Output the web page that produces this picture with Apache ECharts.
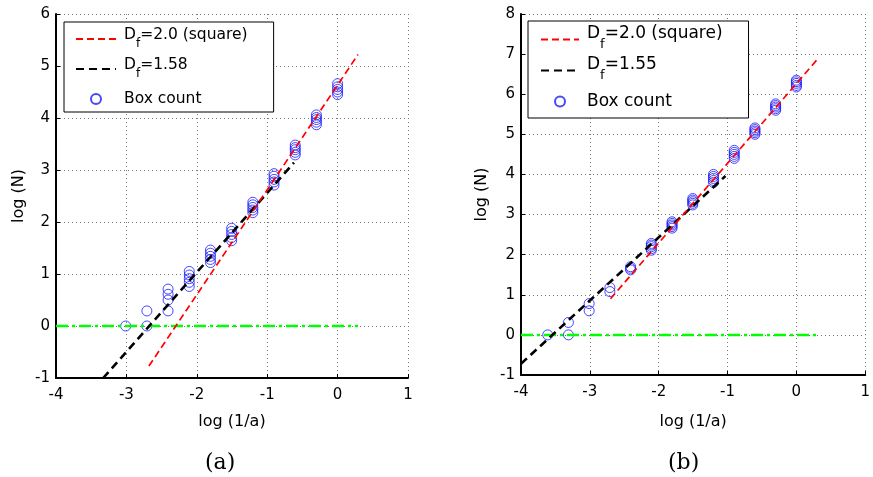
<!DOCTYPE html>
<html>
<head>
<meta charset="utf-8">
<script src="https://cdn.jsdelivr.net/npm/echarts@6/dist/echarts.min.js"></script>
<style>
html,body{margin:0;padding:0;background:#fff;}
#chart{width:873px;height:477px;}
</style>
</head>
<body>
<div id="chart"></div>
<script>
// log(1/a) levels (box sizes a = 1, 1/2, 1/4, ...)
const xLevels = [0, -0.301, -0.602, -0.903, -1.204, -1.505, -1.806, -2.107, -2.408, -2.709, -3.010, -3.311, -3.612];

// Panel (a): log(N) values of box counts at each level
const countsA = [
  [4.45, 4.50, 4.55, 4.60, 4.66],
  [3.87, 3.92, 3.97, 4.01, 4.06],
  [3.29, 3.34, 3.39, 3.43, 3.48],
  [2.71, 2.77, 2.82, 2.88, 2.93],
  [2.18, 2.23, 2.28, 2.33, 2.38],
  [1.64, 1.70, 1.76, 1.82, 1.88],
  [1.22, 1.28, 1.34, 1.40, 1.46],
  [0.76, 0.84, 0.91, 0.98, 1.05],
  [0.29, 0.50, 0.61, 0.71],
  [0.00, 0.29],
  [0.00]
];
// Panel (b)
const countsB = [
  [6.18, 6.22, 6.27, 6.31, 6.35],
  [5.60, 5.64, 5.68, 5.72, 5.76],
  [5.00, 5.04, 5.08, 5.12, 5.16],
  [4.40, 4.45, 4.50, 4.55, 4.60],
  [3.80, 3.85, 3.90, 3.95, 4.00],
  [3.24, 3.28, 3.32, 3.36, 3.40],
  [2.66, 2.70, 2.74, 2.78, 2.82],
  [2.11, 2.15, 2.20, 2.24, 2.28],
  [1.62, 1.66, 1.70],
  [1.08, 1.18],
  [0.60, 0.78],
  [0.00, 0.31],
  [0.00]
];

// Fit lines (endpoints)
const redAX = [-2.68, 0.29],  redAY = [-0.77, 5.22];
const blackAX = [-3.33, -0.62], blackAY = [-1.0, 3.14];
const greenAX = [-4, 0.29], greenAY = [0, 0];
const redBX = [-2.70, 0.30],  redBY = [0.90, 6.86];
const blackBX = [-4, -1.03], blackBY = [-0.72, 3.96];
const greenBX = [-4, 0.30], greenBY = [0, 0];

// Axis ranges / ticks
const xTicks = [-4, -3, -2, -1, 0, 1];
const yTicksA = [-1, 0, 1, 2, 3, 4, 5, 6];
const yTicksB = [-1, 0, 1, 2, 3, 4, 5, 6, 7, 8];

// Legend labels
const labelsA = { red: ['D', 'f', '=2.0 (square)'], black: ['D', 'f', '=1.58'], box: 'Box count' };
const labelsB = { red: ['D', 'f', '=2.0 (square)'], black: ['D', 'f', '=1.55'], box: 'Box count' };
const captions = ['(a)', '(b)'];
const axisNames = { x: 'log (1/a)', y: 'log (N)' };

function pairs(levels, counts) {
  const out = [];
  counts.forEach((arr, i) => arr.forEach(v => out.push([levels[i], v])));
  return out;
}
function zip(xs, ys) { return xs.map((x, i) => [x, ys[i]]); }

const FONT = 'DejaVu Sans';
const grids = [
  { left: 56, top: 14, width: 352, height: 364 },
  { left: 521, top: 14, width: 351, height: 361 }
];

function xAxis(gi) {
  return {
    type: 'value', gridIndex: gi, min: xTicks[0], max: xTicks[xTicks.length - 1], interval: 1,
    name: axisNames.x, nameLocation: 'middle', nameGap: gi === 0 ? 36 : 39,
    nameTextStyle: { fontFamily: FONT, fontSize: 16, color: '#000' },
    axisLine: { show: true, onZero: false, lineStyle: { color: '#000', width: 2 } },
    axisTick: { show: true, inside: true, length: 4, lineStyle: { color: '#000', width: 1 } },
    axisLabel: { fontFamily: FONT, fontSize: 15, color: '#000', margin: 10 },
    splitLine: { show: true, lineStyle: { color: '#777', type: [1, 3], width: 1 } }
  };
}
function yAxis(gi, ticks) {
  return {
    type: 'value', gridIndex: gi, min: ticks[0], max: ticks[ticks.length - 1], interval: 1,
    name: axisNames.y, nameLocation: 'middle', nameGap: gi === 0 ? 29 : 31,
    nameTextStyle: { fontFamily: FONT, fontSize: 16, color: '#000' },
    axisLine: { show: true, onZero: false, lineStyle: { color: '#000', width: 2 } },
    axisTick: { show: true, inside: true, length: 4, lineStyle: { color: '#000', width: 1 } },
    axisLabel: { fontFamily: FONT, fontSize: 15, color: '#000', margin: 6 },
    splitLine: { show: true, lineStyle: { color: '#777', type: [1, 3], width: 1 } }
  };
}

function series(gi, counts, rX, rY, bX, bY, gX, gY) {
  const suf = gi === 0 ? 'A' : 'B';
  return [
    { name: 'box' + suf, type: 'scatter', xAxisIndex: gi, yAxisIndex: gi, data: pairs(xLevels, counts),
      symbol: 'circle', symbolSize: 10,
      itemStyle: { color: 'rgba(255,255,255,0)', borderColor: '#1a1aff', borderWidth: 1 } },
    { name: 'green' + suf, type: 'line', xAxisIndex: gi, yAxisIndex: gi, data: zip(gX, gY),
      symbol: 'none', lineStyle: { color: '#00ff00', width: 2.5, type: [12, 4, 3, 4] } },
    { name: 'black' + suf, type: 'line', xAxisIndex: gi, yAxisIndex: gi, data: zip(bX, bY),
      symbol: 'none', lineStyle: { color: '#000', width: 2.6, type: [8, 5] } },
    { name: 'red' + suf, type: 'line', xAxisIndex: gi, yAxisIndex: gi, data: zip(rX, rY),
      symbol: 'none', lineStyle: { color: '#ff0000', width: 1.7, type: [7, 4] } }
  ];
}

function legend(gi, labels) {
  const suf = gi === 0 ? 'A' : 'B';
  const big = gi === 0;
  const hidden = { color: 'rgba(0,0,0,0)', borderColor: 'rgba(0,0,0,0)', borderWidth: 0 };
  return {
    orient: 'vertical',
    left: gi === 0 ? 64 : 528, top: gi === 0 ? 22 : 21,
    padding: gi === 0 ? [5, 26, 1, 11] : [4, 26, 2, 12],
    itemWidth: gi === 0 ? 40 : 38, itemHeight: 10, itemGap: gi === 0 ? 6 : 2,
    backgroundColor: '#fff', borderColor: '#000', borderWidth: 1,
    selectedMode: false,
    data: [
      { name: 'red' + suf, itemStyle: hidden },
      { name: 'black' + suf, itemStyle: hidden },
      { name: 'box' + suf }
    ],
    formatter: function (name) {
      if (name.indexOf('box') === 0) return '{c|' + labels.box + '}';
      const l = name.indexOf('red') === 0 ? labels.red : labels.black;
      return '{d|' + l[0] + '}{s|' + l[1] + '}{m|' + l[2] + '}';
    },
    textStyle: {
      fontFamily: FONT, fontSize: big ? 15.5 : 17, color: '#000',
      rich: big ? {
        d: { fontFamily: FONT, fontSize: 15.5, lineHeight: 16, padding: [0, 0, 8, 3] },
        m: { fontFamily: FONT, fontSize: 15.5, lineHeight: 16, padding: [0, 0, 8, 0] },
        s: { fontFamily: FONT, fontSize: 12, lineHeight: 16, padding: [9, 0, 0, 0] },
        c: { fontFamily: FONT, fontSize: 15.5, lineHeight: 16, padding: [4, 0, 4, 3] }
      } : {
        d: { fontFamily: FONT, fontSize: 17, lineHeight: 17, padding: [0, 0, 12, 3] },
        m: { fontFamily: FONT, fontSize: 17, lineHeight: 17, padding: [0, 0, 12, 0] },
        s: { fontFamily: FONT, fontSize: 13, lineHeight: 17, padding: [11, 0, 1, 0] },
        c: { fontFamily: FONT, fontSize: 17, lineHeight: 17, padding: [6, 0, 6, 3] }
      }
    }
  };
}

const chart = echarts.init(document.getElementById('chart'), null, { renderer: 'canvas' });
chart.setOption({
  animation: false,
  backgroundColor: '#fff',
  grid: grids,
  xAxis: [xAxis(0), xAxis(1)],
  yAxis: [yAxis(0, yTicksA), yAxis(1, yTicksB)],
  legend: [legend(0, labelsA), legend(1, labelsB)],
  series: [].concat(
    series(0, countsA, redAX, redAY, blackAX, blackAY, greenAX, greenAY),
    series(1, countsB, redBX, redBY, blackBX, blackBY, greenBX, greenBY)
  ),
  graphic: [
    { type: 'text', left: 205, top: 452, style: { text: captions[0], font: '22px "DejaVu Serif"', fill: '#000' } },
    { type: 'text', left: 668, top: 452, style: { text: captions[1], font: '22px "DejaVu Serif"', fill: '#000' } }
  ]
});
</script>
</body>
</html>
